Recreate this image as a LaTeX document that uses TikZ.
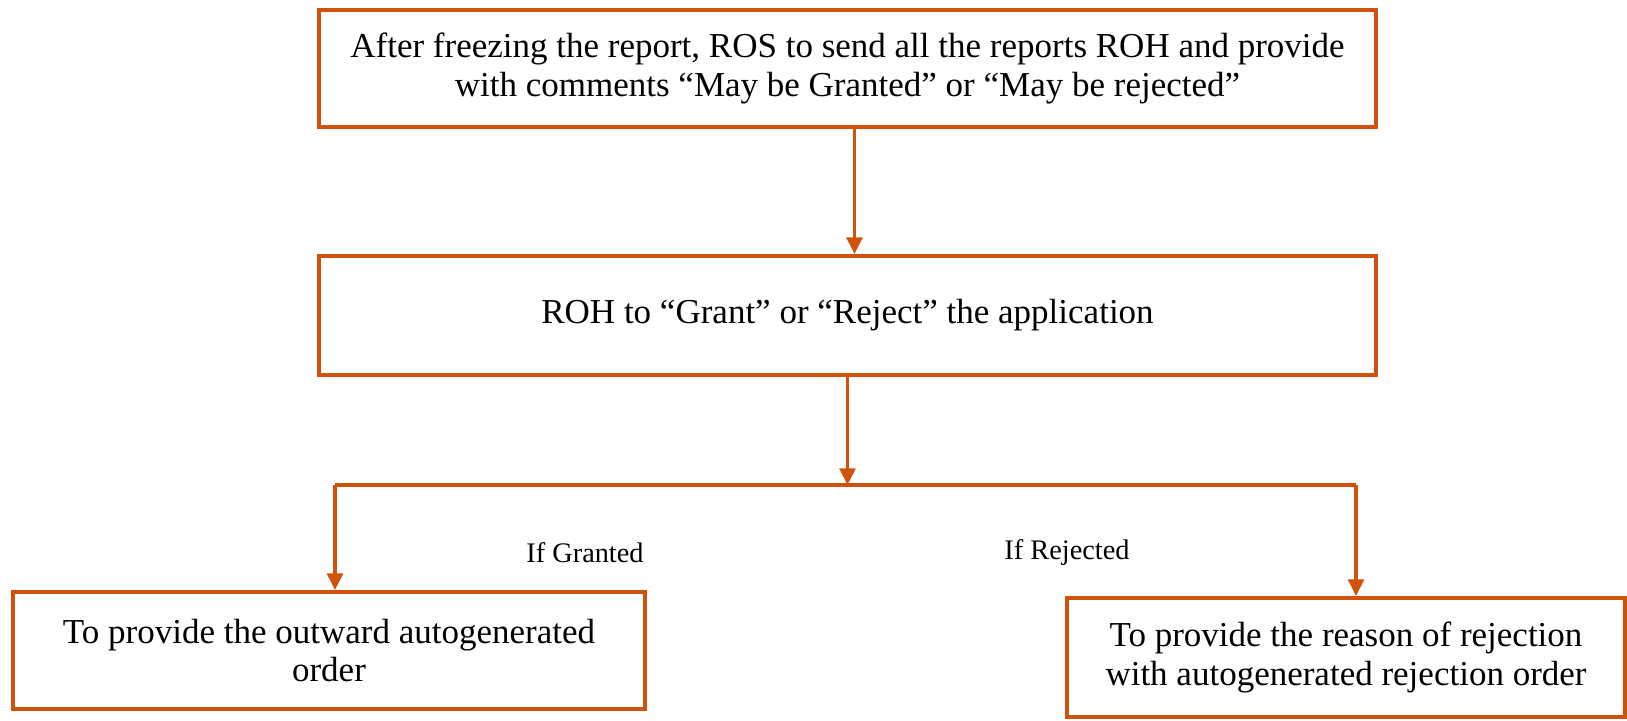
\documentclass[tikz,border=0pt]{standalone}
\usepackage{fontspec}
\setmainfont{Liberation Serif}
\usetikzlibrary{positioning,arrows.meta}
\definecolor{myorange}{RGB}{208,82,8}

\begin{document}
\begin{tikzpicture}[x=0.6pt,y=0.6pt,node distance=75pt,inner sep=0pt]
\tikzstyle{box}=[rectangle, draw=myorange, line width=2.4pt, align=center, font=\fontsize{21}{23}\selectfont]
\tikzstyle{connect}=[-{Triangle[length=10pt,width=9.5pt]}, draw=myorange, line width=2pt]
\tikzstyle{line}=[draw=myorange, line width=2pt]
\tikzstyle{tag}=[font=\fontsize{17}{19}\selectfont]
\useasboundingbox (0,0) rectangle (1627,720);
\node[box,minimum width=634.2pt,minimum height=70.2pt] (report) at (847.5,651.5) {After freezing the report, ROS to send all the reports ROH and provide\\with comments “May be Granted” or “May be rejected”};
\node[box,minimum width=634.2pt,minimum height=71.4pt] (roh) [below=of report] {ROH to “Grant” or “Reject” the application};
\node[box,minimum width=379.2pt,minimum height=70.2pt] (grant) at (329,69.5) {To provide the outward autogenerated\\order};
\node[box,minimum width=334.8pt,minimum height=71.4pt] (reject) at (1346,62.5) {To provide the reason of rejection\\with autogenerated rejection order};

\coordinate (split) at (roh.south |- 0,235);
\coordinate (gl) at (335,235);
\coordinate (rl) at (1356,235);
\node[tag] (ifg) at (585,167) {If Granted};
\node[tag] (ifr) at (1067,167) {If Rejected};

\draw[connect] ([xshift=4.2pt]report.south) -- ([xshift=4.2pt]roh.north);
\draw[connect] (roh.south) -- (split);
\draw[line] (gl) -- (rl);
\draw[connect] (gl) -- (gl |- grant.north);
\draw[connect] (rl) -- (rl |- reject.north);
\end{tikzpicture}
\end{document}
